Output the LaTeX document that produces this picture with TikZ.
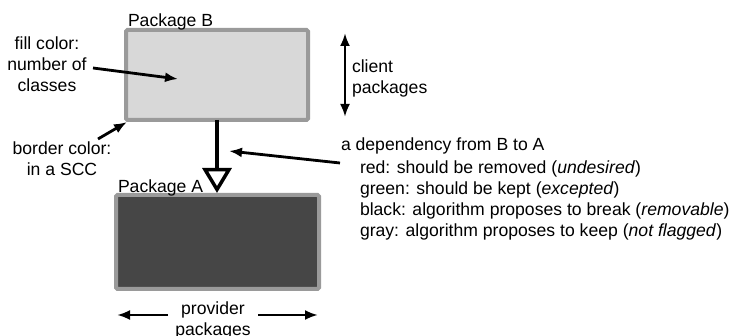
\documentclass[tikz,border=0pt]{standalone}
\usepackage{fontspec}
\setmainfont{Liberation Sans}
\usetikzlibrary{arrows.meta}
\definecolor{bordergray}{HTML}{9A9A9A}
\definecolor{lightfill}{HTML}{D8D8D8}
\definecolor{darkfill}{HTML}{464646}
\tikzset{
  txt/.style={inner sep=0pt, outer sep=0pt, font=\fontsize{17.6}{21.3}\selectfont},
  pkg/.style={draw=bordergray, line width=4pt, rounded corners=1.5pt, inner sep=0pt, outer sep=0pt},
  callout/.style={line width=2.8pt, -{Latex[length=13pt,width=10pt]}},
  both/.style={line width=2.8pt, {Latex[length=13pt,width=10pt]}-{Latex[length=13pt,width=10pt]}},
}
\begin{document}
\begin{tikzpicture}[x=1pt,y=-1pt]
\useasboundingbox (0,0) rectangle (734,336);
% packages
\node[pkg, fill=lightfill, minimum width=182pt, minimum height=90pt] (B) at (217,75) {};
\node[pkg, fill=darkfill, minimum width=203pt, minimum height=94pt] (A) at (217.5,242) {};
\node[txt, anchor=base west] (labB) at (128,27) {Package B};
\node[txt, anchor=base west] (labA) at (118,193) {Package A};
% dependency
\coordinate (tipA) at (217,193);
\draw[line width=4.5pt, -{Triangle[open, length=25pt, width=29pt, line width=3.5pt]}] (B.south) -- (tipA);
% fill color
\node[txt, anchor=base, align=center] (fillc) at (47,92) {fill color:\\number of\\classes};
\coordinate (fillstart) at (93,68);
\coordinate (fillend) at (178,79);
\draw[callout] (fillstart) -- (fillend);
% border color
\node[txt, anchor=base, align=center] (borderc) at (62,176) {border color:\\in a SCC};
\coordinate (borderstart) at (98,139);
\coordinate (borderend) at (127,122);
\draw[callout] (borderstart) -- (borderend);
% client
\coordinate (ctop) at (345,33);
\coordinate (cbot) at (345,117);
\draw[both] (ctop) -- (cbot);
\node[txt, anchor=base west, align=left] (client) at (352,94) {client\\packages};
% provider
\node[txt, anchor=base, align=center] (prov) at (213,336) {provider\\packages};
\coordinate (plstart) at (168,315);
\coordinate (pleft) at (117,315);
\coordinate (prstart) at (258,315);
\coordinate (pright) at (318,315);
\draw[callout] (plstart) -- (pleft);
\draw[callout] (prstart) -- (pright);
% dependency description
\node[txt, anchor=base west] (dep) at (341,151) {a dependency from B to A};
\node[txt, anchor=base west, align=left] (deplist) at (360,237) {red: should be removed (\textit{undesired})\\green: should be kept (\textit{excepted})\\black: algorithm proposes to break (\textit{removable})\\gray: algorithm proposes to keep (\textit{not flagged})};
\coordinate (depstart) at (340,163);
\coordinate (depend) at (229,151);
\draw[callout] (depstart) -- (depend);
\end{tikzpicture}
\end{document}
